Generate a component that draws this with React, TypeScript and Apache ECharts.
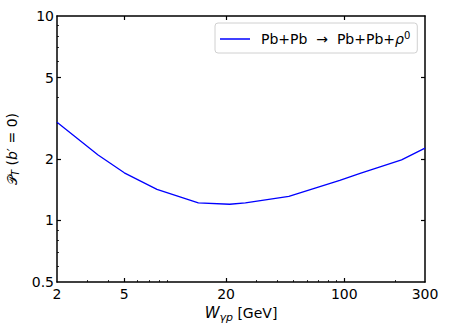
import React, { useEffect, useRef } from "react";
import * as echarts from "echarts";

const W_VALUES = [2, 3.5, 5, 7.8, 13.7, 21, 26, 47, 94, 124, 218, 300];
const P_VALUES = [3.02, 2.09, 1.71, 1.42, 1.22, 1.2, 1.22, 1.31, 1.57, 1.7, 1.98, 2.26];
const X_LABELS = [2, 5, 20, 100, 300];
const X_MAJOR = [5, 20, 100];
const X_MINOR = [3, 4, 6, 7, 8, 9, 30, 40, 50, 60, 70, 80, 90, 200];
const Y_LABELS = [0.5, 1, 2, 5, 10];
const Y_MAJOR = [1, 2, 5];
const Y_MINOR = [0.6, 0.7, 0.8, 0.9, 3, 4, 6, 7, 8, 9];
const SERIES_NAME = "Pb+Pb → Pb+Pb+ρ0";

const FONT = "DejaVu Sans";

export default function App() {
  const ref = useRef<HTMLDivElement>(null);
  useEffect(() => {
    if (!ref.current) return;
    const chart = echarts.init(ref.current, null, { renderer: "svg" });
    const axisLine = { show: true, lineStyle: { color: "#000", width: 1.5 } };
    const baseX = { type: "log", logBase: 10, min: 2, max: 300, splitLine: { show: false }, gridIndex: 0 };
    const baseY = { type: "log", logBase: 10, min: 0.5, max: 10, splitLine: { show: false }, gridIndex: 0 };
    const option: any = {
      animation: false,
      grid: { left: 57, right: 29, top: 16, bottom: 45, outerBoundsMode: "none", containLabel: false },
      legend: {
        data: [{ name: SERIES_NAME, icon: "rect" }],
        left: 215,
        top: 23,
        padding: [7, 7, 7, 5],
        itemWidth: 30,
        itemHeight: 1.5,
        borderColor: "#d0d0d0",
        borderWidth: 1,
        borderRadius: 3,
        formatter: () => "Pb+Pb  →  Pb+Pb+{i|ρ}{s|0}",
        textStyle: {
          fontFamily: FONT,
          fontSize: 14,
          color: "#000",
          padding: [0, 0, 0, 6],
          rich: {
            i: { fontFamily: FONT, fontSize: 14, fontStyle: "italic", color: "#000" },
            s: { fontFamily: FONT, fontSize: 10, color: "#000", verticalAlign: "top", padding: [0, 0, 8, 0] },
          },
        },
      },
      xAxis: [
        {
          ...baseX,
          position: "bottom",
          axisLine,
          axisTick: { show: true, inside: true, length: 4, customValues: X_MAJOR, lineStyle: { color: "#000", width: 1.2 } },
          axisLabel: { show: true, customValues: X_LABELS, color: "#000", fontFamily: FONT, fontSize: 14, margin: 5, formatter: (v: number) => String(v) },
          name: "{w|W}{sub|γp}{n| [GeV]}",
          nameLocation: "middle",
          nameGap: 17,
          nameTextStyle: {
            rich: {
              w: { fontFamily: FONT, fontSize: 15, fontStyle: "italic", color: "#000" },
              sub: { fontFamily: FONT, fontSize: 11, fontStyle: "italic", color: "#000", padding: [8, 0, 0, 0] },
              n: { fontFamily: FONT, fontSize: 14, color: "#000" },
            },
          },
        },
        {
          ...baseX,
          position: "bottom",
          axisLine: { show: false },
          axisTick: { show: true, inside: true, length: 2, customValues: X_MINOR, lineStyle: { color: "#000", width: 0.8 } },
          axisLabel: { show: false },
        },
        {
          ...baseX,
          position: "top",
          axisLine,
          axisTick: { show: true, inside: true, length: 4, customValues: X_MAJOR, lineStyle: { color: "#000", width: 1.2 } },
          axisLabel: { show: false },
        },
      ],
      yAxis: [
        {
          ...baseY,
          position: "left",
          axisLine,
          axisTick: { show: true, inside: true, length: 4, customValues: Y_MAJOR, lineStyle: { color: "#000", width: 1.2 } },
          axisLabel: { show: true, customValues: Y_LABELS, color: "#000", fontFamily: FONT, fontSize: 14, margin: 3, formatter: (v: number) => String(v) },
          name: "{p|𝒫}{sub|T}{n| (}{i|b}{n|′ = 0)}",
          nameLocation: "middle",
          nameGap: 18,
          nameTextStyle: {
            rich: {
              p: { fontFamily: FONT, fontSize: 13, color: "#000" },
              sub: { fontFamily: FONT, fontSize: 10, fontStyle: "italic", color: "#000", padding: [7, 0, 0, 0] },
              i: { fontFamily: FONT, fontSize: 14, fontStyle: "italic", color: "#000" },
              n: { fontFamily: FONT, fontSize: 14, color: "#000" },
            },
          },
        },
        {
          ...baseY,
          position: "left",
          axisLine: { show: false },
          axisTick: { show: true, inside: true, length: 2, customValues: Y_MINOR, lineStyle: { color: "#000", width: 0.8 } },
          axisLabel: { show: false },
        },
        {
          ...baseY,
          position: "right",
          axisLine,
          axisTick: { show: true, inside: true, length: 4, customValues: Y_MAJOR, lineStyle: { color: "#000", width: 1.2 } },
          axisLabel: { show: false },
        },
      ],
      series: [
        {
          name: SERIES_NAME,
          type: "line",
          xAxisIndex: 0,
          yAxisIndex: 0,
          data: W_VALUES.map((w, i) => [w, P_VALUES[i]]),
          showSymbol: false,
          symbol: "none",
          lineStyle: { color: "#0000ff", width: 1.3 },
          itemStyle: { color: "#0000ff" },
        },
      ],
    };
    chart.setOption(option);
    return () => chart.dispose();
  }, []);
  return <div ref={ref} style={{ width: 454, height: 327, position: "absolute", left: 0, top: 0 }} />;
}
